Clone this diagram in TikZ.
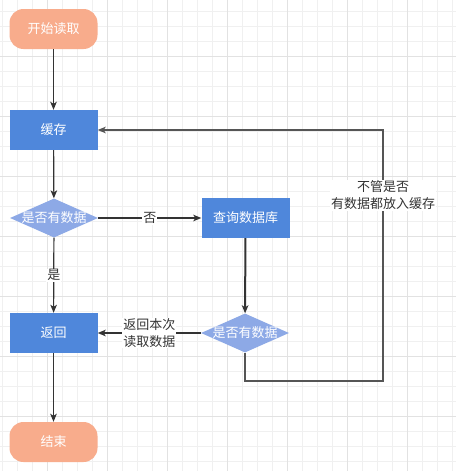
\documentclass[tikz,border=0pt]{standalone}
\usepackage{fontspec}
\setmainfont{Noto Sans CJK SC}
\usetikzlibrary{arrows.meta, shapes.geometric}
\usepackage{xcolor}
\definecolor{termc}{HTML}{F8AC8C}
\definecolor{procc}{HTML}{4F87DB}
\definecolor{askc}{HTML}{8DA9E6}
\definecolor{linec}{HTML}{333333}
\definecolor{loopc}{HTML}{555555}
\definecolor{gridlt}{HTML}{F0F0F0}
\definecolor{griddk}{HTML}{E2E2E2}

\begin{document}
\begin{tikzpicture}[x=1pt, y=-1pt, font=\fontsize{13}{16.5}\selectfont,
  >={Stealth[length=8pt, width=6.5pt, inset=2pt]},
  term/.style={fill=termc, rounded corners=14pt, minimum width=88pt, minimum height=40pt,
               inner sep=0pt, text=white},
  proc/.style={fill=procc, minimum width=88pt, minimum height=40pt, inner sep=0pt, text=white},
  ask/.style={diamond, fill=askc, minimum width=88pt, minimum height=39pt, inner sep=0pt},
  asktxt/.style={text=white, inner sep=0pt},
  lbl/.style={fill=white, inner sep=1pt, align=center, text=linec},
  flow/.style={->, draw=linec, line width=1.2pt},
]
  \fill[white] (0,0) rectangle (456,471);
  \useasboundingbox (0,0) rectangle (456,471);
  % grid
  \foreach \gx in {2.5,17.5,...,452.5} \draw[gridlt, line width=1pt] (\gx,0) -- (\gx,471);
  \foreach \gy in {11,26,...,461} \draw[gridlt, line width=1pt] (0,\gy) -- (456,\gy);
  \foreach \gx in {47.5,107.5,...,407.5} \draw[griddk, line width=1pt] (\gx,0) -- (\gx,471);
  \foreach \gy in {56,116,...,416} \draw[griddk, line width=1pt] (0,\gy) -- (456,\gy);

  \node[term] (start) at (53.5,29)  {开始读取};
  \node[proc] (cache) at (53.5,130) {缓存};
  \node[ask, label={[asktxt]center:是否有数据}] (q1) at (54,218) {};
  \node[proc] (query) at (245.5,218) {查询数据库};
  \node[ask, label={[asktxt]center:是否有数据}] (q2) at (245,333) {};
  \node[proc] (back)  at (53.5,333) {返回};
  \node[term] (fin)   at (53.5,442) {结束};
  \coordinate (turn) at (383,381);

  \draw[flow] (start) -- (cache);
  \draw[flow] (cache) -- (q1);
  \draw[flow] (q1) -- node[lbl] {否} (query);
  \draw[flow] (q1) -- node[lbl] {是} (back);
  \draw[flow, line width=2pt] (query) -- (q2);
  \draw[flow, line width=1.6pt] (q2) -- node[lbl] {返回本次\\读取数据} (back);
  \draw[flow] (back) -- (fin);
  \draw[->, draw=loopc, line width=1.2pt] (q2.south) |- (turn)
    |- node[lbl, pos=0.37] {不管是否\\有数据都放入缓存} (cache.east);
\end{tikzpicture}
\end{document}
